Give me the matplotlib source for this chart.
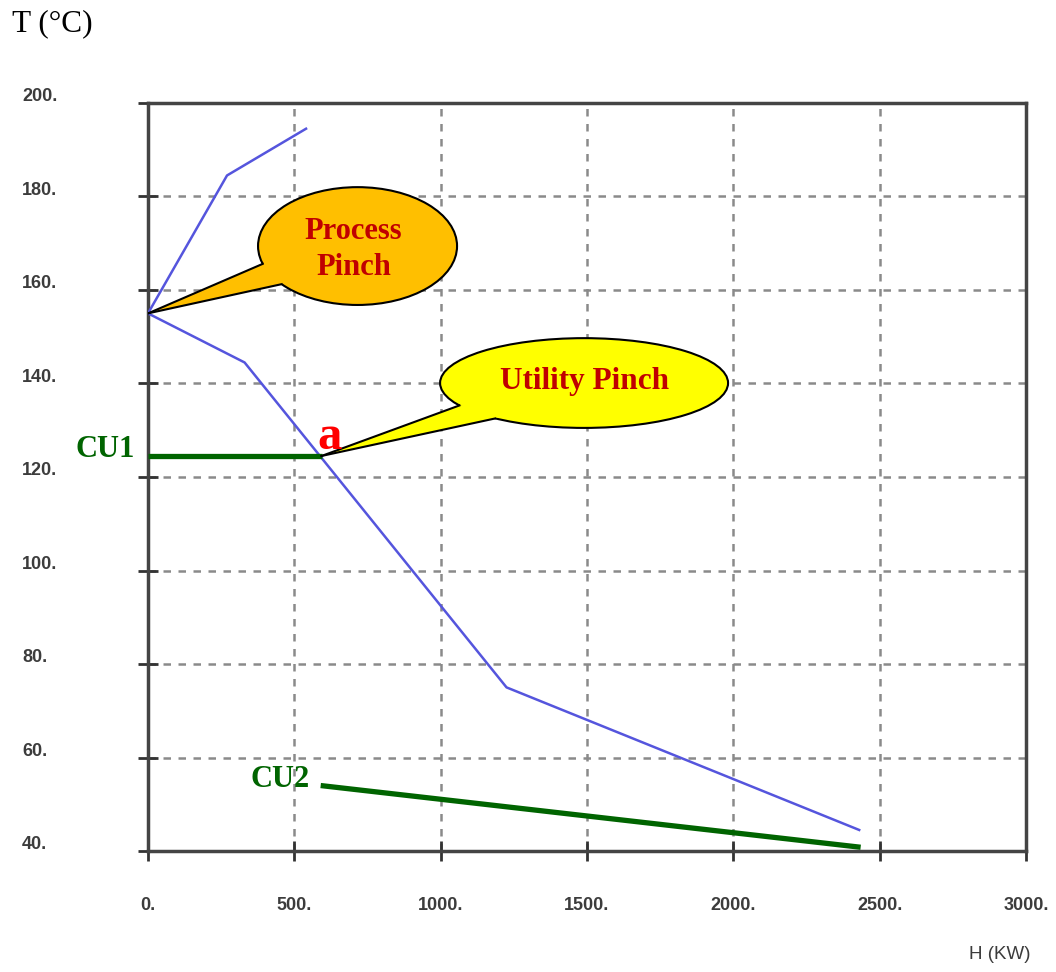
import matplotlib
matplotlib.use("Agg")
import matplotlib.pyplot as plt
from matplotlib.patches import Ellipse, Polygon
from matplotlib.transforms import blended_transform_factory
import numpy as np

# ---- data ----
hot_H = [0, 270, 540]            # upper curve (kW)
hot_T = [155, 184.5, 194.5]      # (°C)
cold_H = [0, 330, 1225, 2430]    # lower curve (kW)
cold_T = [155, 144.5, 75, 44.5]
cu1_H = [0, 593]
cu1_T = [124.5, 124.5]
cu2_H = [590, 2435]
cu2_T = [54, 40.8]
x_ticks = [0, 500, 1000, 1500, 2000, 2500, 3000]
x_labels = ["0.", "500.", "1000.", "1500.", "2000.", "2500.", "3000."]
y_ticks = [40, 60, 80, 100, 120, 140, 160, 180, 200]
y_labels = ["40.", "60.", "80.", "100.", "120.", "140.", "160.", "180.", "200."]

W, H = 1056, 972
fig = plt.figure(figsize=(W / 100, H / 100), dpi=100)
ax = fig.add_axes([148 / W, 1 - 851 / H, (1026 - 148) / W, (851 - 103) / H])
ax.set_xlim(0, 3000)
ax.set_ylim(40, 200)
ax.set_xticks(x_ticks)
ax.set_yticks(y_ticks)
ax.tick_params(labelleft=False, labelbottom=False, direction="inout",
               length=14, width=2, color="#333333")
for s in ax.spines.values():
    s.set_linewidth(2.5)
    s.set_color("#444444")
ax.grid(True, color="#8a8a8a", linestyle=(0, (3, 3)), linewidth=1.8)
ax.set_axisbelow(True)

# curves
ax.plot(hot_H, hot_T, color="#5555dd", lw=1.8, zorder=3)
ax.plot(cold_H, cold_T, color="#5555dd", lw=1.8, zorder=3)
ax.plot(cu1_H, cu1_T, color="#006400", lw=3.8, zorder=4, solid_capstyle="butt")
ax.plot(cu2_H, cu2_T, color="#006400", lw=3.8, zorder=4, solid_capstyle="butt")

# tick labels
tick_style = dict(fontsize=13, family="Liberation Sans", fontweight="bold",
                  color="#3c3c3c")
tx = blended_transform_factory(ax.transData, fig.transFigure)
for v, lab in zip(x_ticks, x_labels):
    ax.text(v, 1 - 905 / H, lab, transform=tx, ha="center", va="center",
            **tick_style)
ty = blended_transform_factory(fig.transFigure, ax.transData)
for v, lab in zip(y_ticks, y_labels):
    ax.text(22 / W, v + 1.3, lab, transform=ty, ha="left", va="center",
            **tick_style)

fig.text(12 / W, 1 - 24 / H, "T (°C)", ha="left", va="center",
         fontsize=22.5, family="Liberation Serif", color="black")
fig.text(1000 / W, 1 - 954 / H, "H (KW)", ha="center", va="center",
         fontsize=13.5, family="Liberation Sans", color="#3c3c3c")


def callout(center, a, b, t1, t2, tip, color):
    cx, cy = center
    e = Ellipse(center, 2 * a, 2 * b, facecolor=color, edgecolor="black",
                lw=1.5, zorder=6, clip_on=False)
    ax.add_patch(e)
    r1, r2 = np.radians(t1), np.radians(t2)
    b1 = (cx + a * np.cos(r1), cy + b * np.sin(r1))
    b2 = (cx + a * np.cos(r2), cy + b * np.sin(r2))
    i1 = (cx + 0.8 * a * np.cos(r1), cy + 0.8 * b * np.sin(r1))
    i2 = (cx + 0.8 * a * np.cos(r2), cy + 0.8 * b * np.sin(r2))
    p = Polygon([tip, b1, i1, i2, b2], closed=True, facecolor=color,
                edgecolor="none", zorder=7, clip_on=False)
    ax.add_patch(p)
    ax.plot([tip[0], b1[0]], [tip[1], b1[1]], color="black", lw=1.5, zorder=8)
    ax.plot([tip[0], b2[0]], [tip[1], b2[1]], color="black", lw=1.5, zorder=8)


callout((716, 169.4), 340, 12.6, 197.6, 220.3, (hot_H[0], hot_T[0]), "#ffbf00")
callout((1490, 140.1), 492, 9.6, 210, 232, (cu1_H[1], cu1_T[1]), "#ffff00")

ax.text(703, 168.6, "Process\nPinch", ha="center", va="center", fontsize=22,
        family="Liberation Serif", fontweight="bold", color="#c00000",
        zorder=9, linespacing=1.3)
ax.text(1490, 140.5, "Utility Pinch", ha="center", va="center", fontsize=22.5,
        family="Liberation Serif", fontweight="bold", color="#c00000", zorder=9)
ax.text(620, 128.5, "a", ha="center", va="center", fontsize=35,
        family="Liberation Serif", fontweight="bold", color="#ff0000", zorder=9)
ax.text(-145, 125.8, "CU1", ha="center", va="center", fontsize=22,
        family="Liberation Serif", fontweight="bold", color="#006400",
        clip_on=False)
ax.text(450, 55.3, "CU2", ha="center", va="center", fontsize=22,
        family="Liberation Serif", fontweight="bold", color="#006400", zorder=9)

fig.savefig("out.png", dpi=100)
